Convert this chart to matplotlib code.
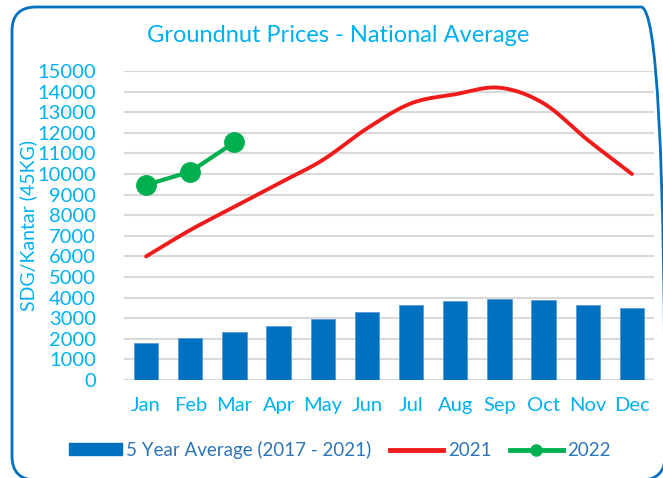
import numpy as np
import matplotlib
matplotlib.use("Agg")
import matplotlib.pyplot as plt
from matplotlib.patches import FancyBboxPatch, Patch
from matplotlib.lines import Line2D
from matplotlib.transforms import IdentityTransform

months = ['Jan', 'Feb', 'Mar', 'Apr', 'May', 'Jun', 'Jul', 'Aug', 'Sep', 'Oct', 'Nov', 'Dec']
avg_5yr = [1780, 2050, 2340, 2640, 2940, 3280, 3640, 3830, 3950, 3870, 3640, 3500]
prices_2021 = [6000, 7280, 8410, 9540, 10680, 12210, 13430, 13870, 14190, 13430, 11650, 10000]
prices_2022 = [9470, 10110, 11540]

LIGHT_BLUE = '#00b0f0'
BAR_BLUE = '#0070c0'
LEGEND_BLUE = '#2e75b6'

plt.rcParams['font.family'] = ['Lato', 'DejaVu Sans']


def smooth(y, n=20):
    # catmull-rom style smoothing, like excel's "smoothed line"
    y = np.asarray(y, dtype=float)
    x = np.arange(len(y), dtype=float)
    px = np.concatenate([[2 * x[0] - x[1]], x, [2 * x[-1] - x[-2]]])
    py = np.concatenate([[2 * y[0] - y[1]], y, [2 * y[-1] - y[-2]]])
    xs, ys = [], []
    t = np.linspace(0, 1, n, endpoint=False)
    for i in range(1, len(px) - 2):
        for arr, out in ((px, xs), (py, ys)):
            p0, p1, p2, p3 = arr[i - 1], arr[i], arr[i + 1], arr[i + 2]
            seg = 0.5 * ((2 * p1) + (-p0 + p2) * t + (2 * p0 - 5 * p1 + 4 * p2 - p3) * t ** 2
                         + (-p0 + 3 * p1 - 3 * p2 + p3) * t ** 3)
            out.extend(seg)
    xs.append(x[-1])
    ys.append(y[-1])
    return np.array(xs), np.array(ys)


fig = plt.figure(figsize=(6.63, 4.78), dpi=100)
ax = fig.add_axes([124 / 663, 1 - 380 / 478, (654 - 124) / 663, (380 - 71) / 478])

x = np.arange(len(months))
ax.bar(x, avg_5yr, width=0.55, color=BAR_BLUE, edgecolor='#5b9bd5', linewidth=0.6, zorder=2)
sx, sy = smooth(prices_2021)
ax.plot(sx, sy, color='#f01c1c', lw=2.8, solid_capstyle='round', zorder=3)
ax.plot(x[:len(prices_2022)], prices_2022, color='#00b050', lw=3, marker='o', ms=14,
        solid_capstyle='round', zorder=4)

ax.set_xlim(-0.5, 11.5)
ax.set_ylim(0, 15000)
ax.set_yticks(np.arange(0, 15001, 1000))
ax.set_xticks(x)
ax.set_xticklabels(months)
ax.tick_params(axis='both', length=0, labelcolor=LIGHT_BLUE, labelsize=14.5)
ax.tick_params(axis='x', pad=12)
ax.tick_params(axis='y', pad=20)
for s in ax.spines.values():
    s.set_visible(False)
ax.grid(True, axis='y', color='#d9d9d9', lw=1.5, zorder=0)
ax.set_axisbelow(True)
ax.set_ylabel('SDG/Kantar (45KG)', color=LIGHT_BLUE, fontsize=14, labelpad=0)

fig.text(338 / 663, 1 - 35 / 478, 'Groundnut Prices - National Average', color=LIGHT_BLUE,
         fontsize=17, ha='center', va='center')

handles = [
    Patch(facecolor=BAR_BLUE, edgecolor=BAR_BLUE),
    Line2D([], [], color='#f01c1c', lw=3.5),
    Line2D([], [], color='#00b050', lw=3.5, marker='o', ms=8),
]
labels = ['5 Year Average (2017 - 2021)', '2021', '2022']
fig.legend(handles, labels, loc='center', bbox_to_anchor=(340 / 663, 1 - 450 / 478), ncol=3,
           frameon=False, fontsize=13.5, labelcolor=LEGEND_BLUE, handlelength=2.8,
           handleheight=0.6, handletextpad=0.25, columnspacing=1.0)

# rounded chart border, in pixels (origin bottom-left)
border = FancyBboxPatch((12, 478 - 480), 653, 480 - 7,
                        boxstyle='round,pad=0,rounding_size=24', transform=IdentityTransform(),
                        facecolor='none', edgecolor=BAR_BLUE, lw=2, clip_on=False)
fig.patches.append(border)

fig.savefig('out.png', dpi=100)
